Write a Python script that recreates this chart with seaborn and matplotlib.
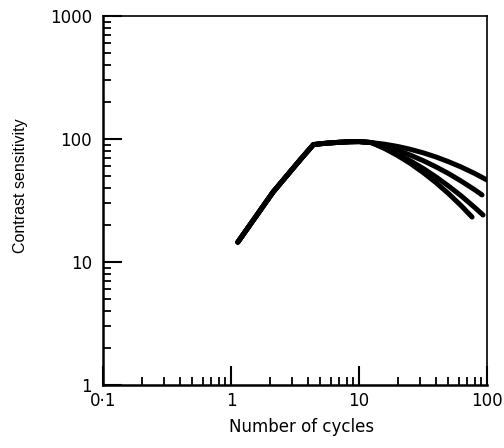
import numpy as np
import pandas as pd
import matplotlib
matplotlib.use("Agg")
import matplotlib.pyplot as plt
import seaborn as sns
from matplotlib.ticker import LogLocator, NullFormatter

# shared rising part + plateau
shared_x = [1.13, 2.13, 3.46, 4.4, 5, 6, 7, 8.5, 10, 12.5]
shared_y = [14.5, 37, 67.5, 90, 91.5, 93, 94, 95, 95.3, 93.5]

# four falling branches
c1_x = [16, 20, 25, 32, 40, 50, 63, 80, 100]
c1_y = [90.6, 87.0, 82.6, 77.0, 71.4, 65.4, 59.1, 52.5, 46.4]
c2_x = [16, 20, 25, 32, 40, 50, 63, 80, 91.4]
c2_y = [87.4, 81.0, 74.2, 66.4, 59.3, 52.4, 45.4, 38.7, 35.1]
c3_x = [16, 20, 25, 32, 40, 50, 63, 80, 93.1]
c3_y = [84.3, 75.5, 66.7, 57.3, 49.1, 41.5, 34.4, 27.8, 24.1]
c4_x = [16, 20, 25, 32, 40, 50, 63, 76.4]
c4_y = [83.2, 73.4, 63.6, 53.0, 44.1, 36.0, 28.6, 23.2]

x_ticks = [0.1, 1, 10, 100]
x_labels = ["0·1", "1", "10", "100"]
y_ticks = [1, 10, 100, 1000]
y_labels = ["1", "10", "100", "1000"]

rows = []
for name, bx, by in [("c1", c1_x, c1_y), ("c2", c2_x, c2_y),
                     ("c3", c3_x, c3_y), ("c4", c4_x, c4_y)]:
    for xv, yv in zip(shared_x + bx, shared_y + by):
        rows.append({"curve": name, "cycles": xv, "sens": yv})
df = pd.DataFrame(rows)

sns.set_style("ticks")
plt.rcParams['font.family'] = ['DejaVu Sans']

fig = plt.figure(figsize=(5.04, 4.48), dpi=100)
ax = fig.add_axes([0.2044, 0.1406, 0.7619, 0.8237])

sns.lineplot(data=df, x="cycles", y="sens", hue="curve", units="curve",
             estimator=None, sort=False, palette=["black"] * 4,
             legend=False, linewidth=3.6, ax=ax,
             solid_capstyle="round", solid_joinstyle="round")

ax.set_xscale("log")
ax.set_yscale("log")
ax.set_xlim(0.1, 100)
ax.set_ylim(1, 1000)

ax.set_xticks(x_ticks)
ax.set_xticklabels(x_labels, fontsize=12)
ax.set_yticks(y_ticks)
ax.set_yticklabels(y_labels, fontsize=12)
ax.xaxis.set_minor_locator(LogLocator(base=10, subs=np.arange(2, 10)))
ax.yaxis.set_minor_locator(LogLocator(base=10, subs=np.arange(2, 10)))
ax.xaxis.set_minor_formatter(NullFormatter())
ax.yaxis.set_minor_formatter(NullFormatter())

ax.tick_params(which="major", direction="in", length=13.5, width=1.5,
               top=False, right=False, color="black", labelcolor="black")
ax.tick_params(axis="y", which="major", pad=8)
ax.tick_params(axis="x", which="major", pad=5)
ax.tick_params(which="minor", direction="in", length=6, width=1.3,
               top=False, right=False, color="black")

for s in ["left", "bottom"]:
    ax.spines[s].set_linewidth(1.8)
for s in ["top", "right"]:
    ax.spines[s].set_linewidth(1.2)
for s in ax.spines.values():
    s.set_color("black")

ax.set_xlabel("Number of cycles", fontsize=12, color="black")
ax.set_ylabel("Contrast sensitivity", fontsize=11.5, color="black",
              family=["Liberation Sans", "DejaVu Sans"])
ax.xaxis.set_label_coords(0.518, -0.089)
ax.yaxis.set_label_coords(-0.195, 0.54)

fig.savefig("out.png", dpi=100)
